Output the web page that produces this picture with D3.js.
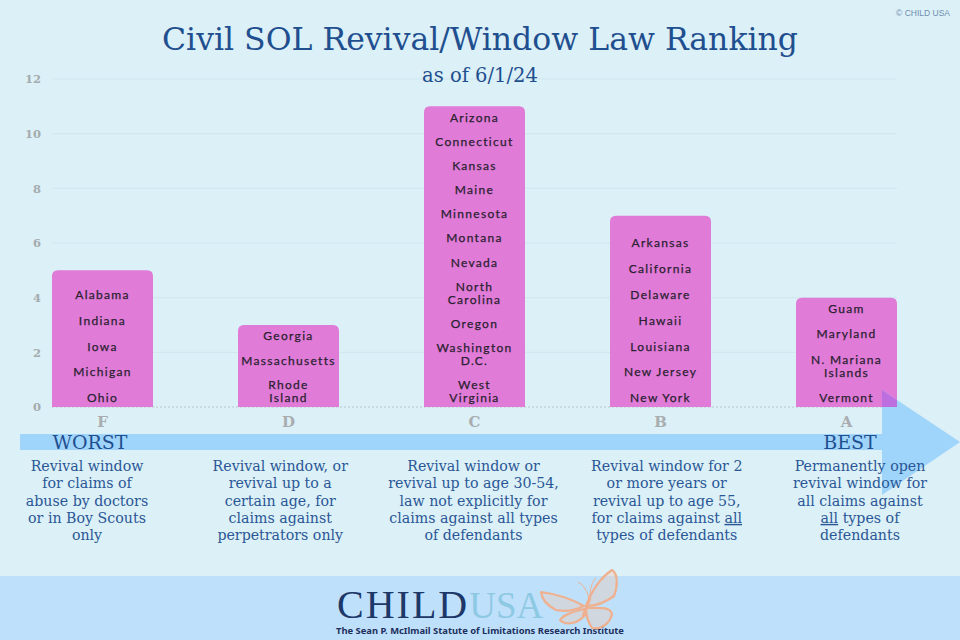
<!DOCTYPE html>
<html><head><meta charset="utf-8">
<script src="https://cdn.jsdelivr.net/npm/d3@7"></script>
<style>body{margin:0;background:#dcf0f7;} svg{display:block}</style>
</head><body>
<svg id="c" width="960" height="640"></svg>
<script>
// ---- data ----
const categories = ["F", "D", "C", "B", "A"];
const counts = [5, 3, 11, 7, 4];
const states = [
  ["Alabama", "Indiana", "Iowa", "Michigan", "Ohio"],
  ["Georgia", "Massachusetts", "Rhode\nIsland"],
  ["Arizona", "Connecticut", "Kansas", "Maine", "Minnesota", "Montana", "Nevada", "North\nCarolina", "Oregon", "Washington\nD.C.", "West\nVirginia"],
  ["Arkansas", "California", "Delaware", "Hawaii", "Louisiana", "New Jersey", "New York"],
  ["Guam", "Maryland", "N. Mariana\nIslands", "Vermont"]
];
const yTicks = [0, 2, 4, 6, 8, 10, 12];
const descriptions = [
  ["Revival window", "for claims of", "abuse by doctors", "or in Boy Scouts", "only"],
  ["Revival window, or", "revival up to a", "certain age, for", "claims against", "perpetrators only"],
  ["Revival window or", "revival up to age 30-54,", "law not explicitly for", "claims against all types", "of defendants"],
  ["Revival window for 2", "or more years or", "revival up to age 55,", "for claims against _all_", "types of defendants"],
  ["Permanently open", "revival window for", "all claims against", "_all_ types of", "defendants"]
];
const endLabels = ["WORST", "BEST"];
const titleText = "Civil SOL Revival/Window Law Ranking";
const subtitleText = "as of 6/1/24";

// ---- drawing ----
const svg = d3.select("#c");
const W = 960, H = 640;
const serif = "'DejaVu Serif', serif";
const titleBlue = "#1f4f8f";

svg.append("rect").attr("width", W).attr("height", H).attr("fill", "#dcf0f7");

const x = d3.scaleBand().domain(categories).range([52, 897]).paddingInner(0.457).paddingOuter(0);
const y = d3.scaleLinear().domain([0, 12]).range([407, 79]);

// grid
const grid = svg.append("g");
grid.selectAll("line").data(yTicks).join("line")
  .attr("x1", 52).attr("x2", 897)
  .attr("y1", d => y(d)).attr("y2", d => y(d))
  .attr("stroke", d => d === 0 ? "#b9c7cc" : "#cfe6ee")
  .attr("stroke-width", 1)
  .attr("stroke-dasharray", d => d === 0 ? "2,2" : null);

// y axis
const yAxis = svg.append("g").attr("transform", "translate(41,0)")
  .call(d3.axisLeft(y).tickValues(yTicks).tickSize(0).tickPadding(0));
yAxis.select(".domain").remove();
yAxis.selectAll("text").attr("font-family", serif).attr("font-weight", "bold")
  .attr("font-size", 11.5).attr("fill", "#a4abae");

// x axis
const xAxis = svg.append("g").attr("transform", `translate(0,${y(0)})`)
  .call(d3.axisBottom(x).tickSize(0).tickPadding(9));
xAxis.select(".domain").remove();
xAxis.selectAll("text").attr("font-family", serif).attr("font-weight", "bold")
  .attr("font-size", 15).attr("fill", "#a9adaf");

// bars with rounded tops
const r = 6;
function barPath(c, v) {
  const x0 = x(c), x1 = x(c) + x.bandwidth(), y0 = y(0), y1 = y(v);
  return `M${x0},${y0}V${y1 + r}Q${x0},${y1} ${x0 + r},${y1}H${x1 - r}Q${x1},${y1} ${x1},${y1 + r}V${y0}Z`;
}
const barData = categories.map((c, i) => ({ c, v: counts[i], i }));
svg.append("g").selectAll("path").data(barData).join("path")
  .attr("d", d => barPath(d.c, d.v))
  .attr("fill", "#e07bd8");

// arrow
const arrow = svg.append("g");
arrow.append("rect").attr("x", 20).attr("y", 434).attr("width", 862).attr("height", 16).attr("fill", "#9fd4fb");
const headPts = [[882, 390], [960, 442], [882, 495]];
arrow.append("polygon").attr("points", headPts.map(p => p.join(",")).join(" ")).attr("fill", "#9fd4fb");
// overlap of arrowhead with last bar
const last = barData[barData.length - 1];
svg.append("clipPath").attr("id", "lastBar").append("path").attr("d", barPath(last.c, last.v));
svg.append("polygon").attr("points", headPts.map(p => p.join(",")).join(" "))
  .attr("fill", "#bd6fdf").attr("clip-path", "url(#lastBar)");

// bar labels (stacked from bottom)
const lineH = 13;
const labelG = svg.append("g").attr("font-family", "Lato, 'Open Sans', sans-serif")
  .attr("font-size", 12).attr("letter-spacing", "1.3px").attr("fill", "#2b1f30")
  .attr("stroke", "#2b1f30").attr("stroke-width", 0.25)
  .attr("text-anchor", "middle");
barData.forEach(d => {
  const entries = states[d.i].map(s => s.split("\n"));
  const inner = d3.sum(entries, e => e.length - 1);
  const bottom = y(0) - 9;
  const top = y(d.v) + 11;
  const gap = entries.length > 1 ? Math.min(25.8, (bottom - top - inner * lineH) / (entries.length - 1)) : 0;
  let pos = bottom;
  const cx = x(d.c) + x.bandwidth() / 2;
  for (let k = entries.length - 1; k >= 0; k--) {
    const lines = entries[k];
    for (let j = lines.length - 1; j >= 0; j--) {
      labelG.append("text").attr("x", cx).attr("y", pos).attr("dy", "0.35em").text(lines[j]);
      if (j > 0) pos -= lineH;
    }
    pos -= gap;
  }
});

// WORST / BEST
svg.append("text").attr("x", 90).attr("y", 449).attr("text-anchor", "middle")
  .attr("font-family", serif).attr("font-size", 19).attr("fill", titleBlue).text(endLabels[0]);
svg.append("text").attr("x", 850).attr("y", 449).attr("text-anchor", "middle")
  .attr("font-family", serif).attr("font-size", 19).attr("fill", titleBlue).text(endLabels[1]);

// descriptions
const dx = d3.scalePoint().domain(categories).range([87, 860]);
const descG = svg.append("g").attr("font-family", serif).attr("font-size", 14.2)
  .attr("fill", "#2a5796").attr("text-anchor", "middle");
categories.forEach((c, i) => {
  descriptions[i].forEach((line, j) => {
    const t = descG.append("text").attr("x", dx(c)).attr("y", 471 + j * 17.3);
    line.split(/(_[^_]+_)/).filter(s => s.length).forEach(part => {
      const u = part.startsWith("_");
      t.append("tspan").text(u ? part.slice(1, -1) : part)
        .attr("text-decoration", u ? "underline" : null);
    });
  });
});

// title
svg.append("text").attr("x", 480).attr("y", 50).attr("text-anchor", "middle")
  .attr("font-family", serif)
  .attr("font-size", 31.5).attr("fill", titleBlue).text(titleText);
svg.append("text").attr("x", 480).attr("y", 82).attr("text-anchor", "middle")
  .attr("font-family", serif)
  .attr("font-size", 19.5).attr("fill", titleBlue).text(subtitleText);

svg.append("text").attr("x", 950).attr("y", 16).attr("text-anchor", "end")
  .attr("font-family", "'Liberation Sans', sans-serif").attr("font-size", 8.5)
  .attr("fill", "#6f8fae").text("© CHILD USA");

// footer
svg.append("rect").attr("x", 0).attr("y", 576).attr("width", W).attr("height", 64).attr("fill", "#bee0fb");
const logo = svg.append("text").attr("x", 337).attr("y", 618)
  .attr("font-family", "'Liberation Serif', serif").attr("font-size", 40);
logo.append("tspan").attr("fill", "#1c3768").attr("letter-spacing", "2px").text("CHILD");
logo.append("tspan").attr("fill", "#8ec9e3").attr("font-size", 37).text("USA");
svg.append("text").attr("x", 480).attr("y", 634).attr("text-anchor", "middle")
  .attr("font-family", "'Noto Sans', sans-serif").attr("font-weight", "bold").attr("font-size", 9.4)
  .attr("fill", "#1d2f5c").text("The Sean P. McIlmail Statute of Limitations Research Institute");

// butterfly
const bf = svg.append("g").attr("fill", "#f5c7ac").attr("fill-opacity", 0.35)
  .attr("stroke", "#efb08f").attr("stroke-width", 2.2).attr("stroke-linejoin", "round");
bf.append("path").attr("d", "M586,606 C592,590 600,578 612,570 C618,574 618,586 614,596 C606,602 596,606 586,606 Z");
bf.append("path").attr("d", "M586,608 C598,608 610,606 612,614 C610,624 600,630 592,628 C588,622 586,614 586,608 Z");
bf.append("path").attr("d", "M584,606 C570,598 556,594 541,592 C542,600 548,606 556,610 C566,612 576,610 584,606 Z");
bf.append("path").attr("d", "M584,609 C574,612 564,614 560,620 C566,626 578,624 586,614 Z");
bf.append("path").attr("d", "M583,616 L590,598").attr("stroke-width", 3).attr("fill", "none");
bf.append("path").attr("d", "M589,598 C586,588 582,584 578,582 M590,598 C590,588 592,582 596,578").attr("fill", "none").attr("stroke-width", 1);
</script>
</body></html>
